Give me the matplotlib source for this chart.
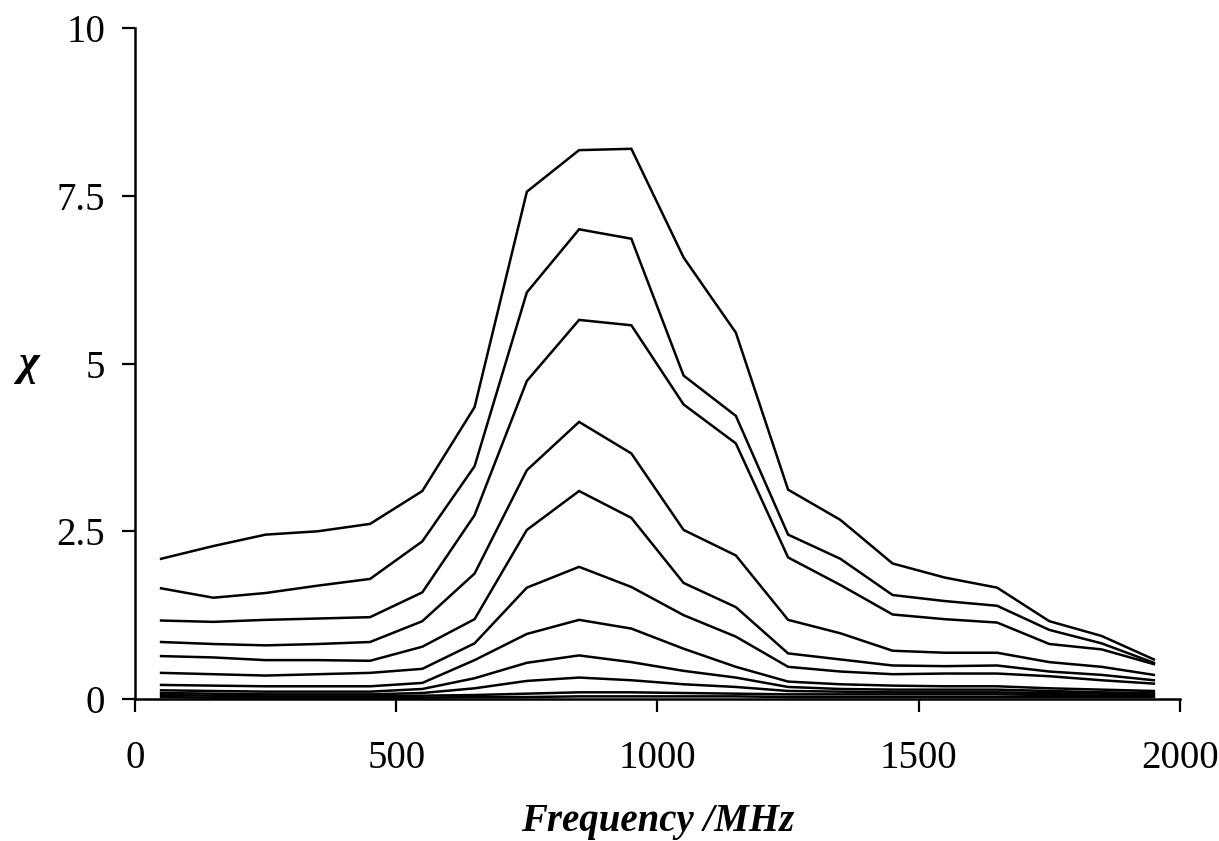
import numpy as np
import matplotlib
matplotlib.use("Agg")
from matplotlib import pyplot as plt

# frequency points (MHz)
freq = [50, 150, 250, 350, 450, 550, 650, 750, 850, 950,
        1050, 1150, 1250, 1350, 1450, 1550, 1650, 1750, 1850, 1950]

# chi curves, largest to smallest
chi_1 = [2.09, 2.28, 2.45, 2.50, 2.61, 3.10, 4.35, 7.56, 8.18, 8.20,
         6.58, 5.46, 3.12, 2.67, 2.02, 1.81, 1.66, 1.16, 0.94, 0.59]
chi_2 = [1.65, 1.51, 1.58, 1.69, 1.79, 2.35, 3.47, 6.06, 7.00, 6.86,
         4.82, 4.22, 2.45, 2.09, 1.55, 1.46, 1.39, 1.03, 0.83, 0.54]
chi_3 = [1.17, 1.15, 1.18, 1.20, 1.22, 1.59, 2.74, 4.74, 5.65, 5.57,
         4.39, 3.81, 2.11, 1.70, 1.26, 1.19, 1.14, 0.82, 0.74, 0.52]
chi_4 = [0.85, 0.82, 0.80, 0.82, 0.85, 1.16, 1.87, 3.41, 4.13, 3.66,
         2.52, 2.14, 1.18, 0.98, 0.72, 0.69, 0.69, 0.55, 0.48, 0.36]
chi_5 = [0.64, 0.62, 0.58, 0.58, 0.57, 0.78, 1.19, 2.52, 3.10, 2.70,
         1.73, 1.37, 0.68, 0.59, 0.50, 0.49, 0.50, 0.41, 0.36, 0.28]
chi_6 = [0.39, 0.37, 0.35, 0.37, 0.39, 0.45, 0.83, 1.66, 1.97, 1.67,
         1.25, 0.93, 0.48, 0.41, 0.37, 0.38, 0.38, 0.34, 0.28, 0.23]
chi_7 = [0.21, 0.20, 0.19, 0.19, 0.19, 0.24, 0.58, 0.97, 1.18, 1.05,
         0.75, 0.48, 0.26, 0.22, 0.20, 0.19, 0.19, 0.16, 0.14, 0.12]
chi_8 = [0.13, 0.12, 0.11, 0.11, 0.11, 0.15, 0.31, 0.54, 0.65, 0.55,
         0.42, 0.32, 0.18, 0.15, 0.14, 0.14, 0.14, 0.12, 0.10, 0.09]
chi_9 = [0.09, 0.08, 0.07, 0.07, 0.07, 0.09, 0.16, 0.27, 0.32, 0.28,
         0.22, 0.18, 0.12, 0.11, 0.10, 0.10, 0.10, 0.09, 0.08, 0.07]
chi_10 = [0.06, 0.05, 0.04, 0.04, 0.04, 0.05, 0.06, 0.08, 0.10, 0.10,
          0.09, 0.08, 0.07, 0.07, 0.07, 0.07, 0.07, 0.06, 0.05, 0.05]
chi_11 = [0.03, 0.02, 0.02, 0.02, 0.02, 0.02, 0.03, 0.03, 0.04, 0.04,
          0.04, 0.04, 0.03, 0.03, 0.03, 0.03, 0.03, 0.03, 0.03, 0.03]

x_ticks = [0, 500, 1000, 1500, 2000]
y_ticks = [0, 2.5, 5, 7.5, 10]
y_tick_labels = ["0", "2.5", "5", "7.5", "10"]

plt.rcParams['font.family'] = ['Liberation Serif', 'DejaVu Serif']

fig = plt.figure(figsize=(12.19, 8.41), dpi=100)
ax = fig.add_axes([0.1107, 0.1688, 0.8573, 0.7979])

for curve in [chi_1, chi_2, chi_3, chi_4, chi_5, chi_6,
              chi_7, chi_8, chi_9, chi_10, chi_11]:
    ax.plot(freq, curve, color='black', lw=1.8, solid_joinstyle='miter')

ax.set_xlim(0, 2000)
ax.set_ylim(0, 10)
ax.set_xticks(x_ticks)
ax.set_yticks(y_ticks)
ax.set_yticklabels(y_tick_labels)

for side in ['top', 'right']:
    ax.spines[side].set_visible(False)
for side in ['left', 'bottom']:
    ax.spines[side].set_linewidth(1.8)
    ax.spines[side].set_zorder(5)

ax.tick_params(axis='both', direction='out', length=9.5, width=1.6,
               labelsize=28, color='black')
ax.tick_params(axis='y', pad=12)
ax.tick_params(axis='x', pad=20)

ax.set_xlabel('Frequency /MHz', fontsize=28, fontweight='bold',
              fontstyle='italic', labelpad=19)
ax.set_ylabel('χ', fontsize=32, fontweight='bold', fontstyle='italic',
              rotation=0, va='center', ha='center')
ax.yaxis.set_label_coords(-0.102, 0.5)

fig.savefig('out.png', dpi=100)
